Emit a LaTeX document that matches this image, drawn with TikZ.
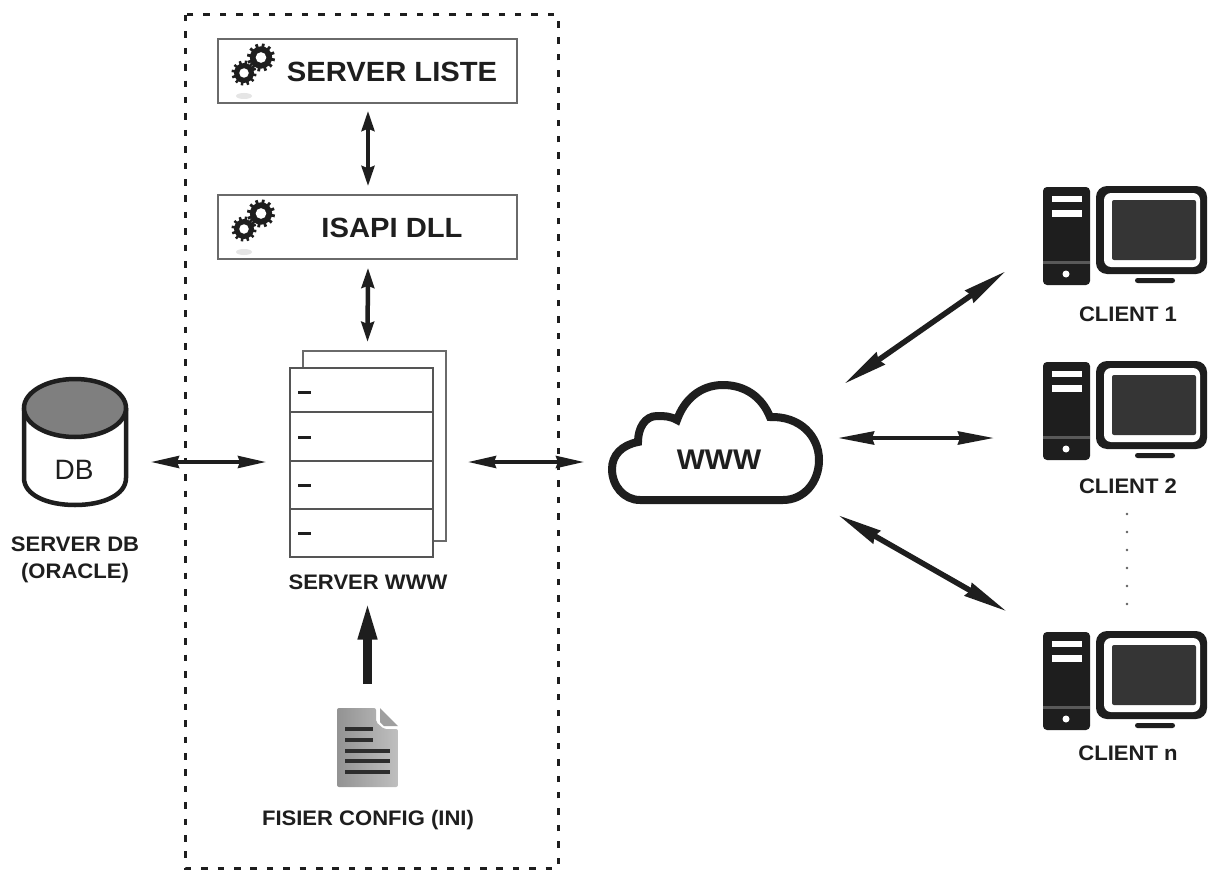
\documentclass[tikz,border=0pt]{standalone}
\usepackage{fontspec}
\setmainfont{Liberation Sans}
\newfontfamily\labf[FakeStretch=1.05]{Liberation Sans}
\usetikzlibrary{arrows.meta,calc,shapes.geometric}
\definecolor{ink}{HTML}{1E1E1E}
\definecolor{edge}{HTML}{6A6A6A}
\definecolor{dbtop}{HTML}{7F7F7F}
\newcommand{\gearw}[3]{%
  \fill[ink] (#1,#2) circle ({#3*0.8});
  \foreach \a in {0,30,...,330}{
    \draw[ink,line width={#3*0.2pt}] ({#1+#3*0.6*cos(\a+10)},{#2+#3*0.6*sin(\a+10)}) -- ({#1+#3*cos(\a+10)},{#2+#3*sin(\a+10)});
  }
  \fill[white] (#1,#2) circle ({#3*0.38});
}
\tikzset{
  x=1pt,y=-1pt,
  boxn/.style={draw=edge,line width=1.5pt,fill=white,minimum width=299pt,minimum height=64pt,inner sep=0pt},
  ghost/.style={inner sep=0pt,outer sep=0pt},
  headlab/.style={font=\labf\bfseries\fontsize{27.8}{30}\selectfont,text=ink,inner sep=0pt},
  caplab/.style={font=\labf\bfseries\fontsize{21}{27}\selectfont,text=ink,inner sep=0pt,align=center},
  bi/.style={ink,line width=3.5pt,{Stealth[length=28pt,width=12pt,inset=2pt]}-{Stealth[length=28pt,width=12pt,inset=2pt]}},
  biw/.style={ink,line width=4pt,{Stealth[length=36pt,width=13pt,inset=2pt]}-{Stealth[length=36pt,width=13pt,inset=2pt]}},
  bid/.style={ink,line width=5.5pt,{Stealth[length=44pt,width=14pt,inset=2pt]}-{Stealth[length=44pt,width=14pt,inset=2pt]}},
  biv/.style={ink,line width=4.5pt,{Stealth[length=20pt,width=12.5pt,inset=2pt]}-{Stealth[length=20pt,width=12.5pt,inset=2pt]}},
  gears/.pic={
    \fill[gray!20] (26,57) ellipse (8 and 3);
    \gearw{43}{18.5}{14}
    \gearw{26}{34}{12.5}
  },
  computer/.pic={
    \fill[ink,rounded corners=4pt] (1043,187) rectangle (1090,285);
    \fill[white] (1052,196) rectangle (1082,202);
    \fill[white] (1052,210) rectangle (1082,217);
    \fill[gray!70!black] (1043,261) rectangle (1090,264);
    \fill[white] (1066,274) circle (3.5);
    \fill[ink,rounded corners=11pt] (1096,186) rectangle (1207,274);
    \fill[white,rounded corners=7pt] (1104,193) rectangle (1200,267);
    \fill[ink!90,rounded corners=2pt] (1112,200) rectangle (1196,260);
    \fill[ink,rounded corners=2.5pt] (1135,278) rectangle (1175,283);
  },
}
\begin{document}
\begin{tikzpicture}
\useasboundingbox (0,0) rectangle (1209,872);
\fill[white] (0,0) rectangle (1209,872);
% dotted frame
\draw[ink,line width=3pt,dash pattern=on 6.5pt off 9.9pt] (185,15) rectangle (558,868);
% boxes
\node[boxn] (liste) at (367.5,71) {};
\node[boxn] (isapi) at (367.5,227) {};
\pic at (218,39) {gears};
\pic at (218,195) {gears};
\node[headlab] (listeT) at (392,72) {SERVER LISTE};
\node[headlab] (isapiT) at (392,228) {ISAPI DLL};
% server www
\draw[edge,line width=1.5pt] (303,368) -- (303,351) -- (446,351) -- (446,541) -- (433,541);
\draw[edge!80!black,line width=1.5pt,fill=white] (290,368) rectangle (433,557);
\draw[edge!80!black,line width=1.5pt] (290,412) -- (433,412) (290,461) -- (433,461) (290,509) -- (433,509);
\foreach \yy in {392,437,485,533}{ \draw[ink,line width=3pt] (298,\yy) -- (311,\yy); }
\node[ghost,minimum width=156pt,minimum height=206pt] (server) at (368,454) {};
\node[caplab] (serverT) at (368,582) {SERVER WWW};
% config file
\path[left color=gray!85,right color=gray!50,rounded corners=2pt]
  (337,708) -- (376,708) -- (376,722) -- (384,729) -- (398,729) -- (398,787) -- (337,787) -- cycle;
\fill[gray!75] (380,708) -- (398,726) -- (384,726) -- (380,722) -- cycle;
\foreach \yy/\xe in {729/373,740/373,751/390,761/390,772/390}{ \draw[gray!35!black,line width=3.2pt] (345,\yy) -- (\xe,\yy); }
\node[ghost,minimum width=61pt,minimum height=79pt] (config) at (367.5,747.5) {};
\node[caplab] (configT) at (368,820) {FISIER CONFIG (INI)};
% database
\draw[ink,line width=4.5pt,fill=white] (24,408) -- (24,478) .. controls (24,495) and (47,505) .. (75,505) .. controls (103,505) and (126,495) .. (126,478) -- (126,408);
\draw[ink,line width=4.5pt,fill=dbtop] (75,408) ellipse (51 and 29);
\node[ghost,minimum width=106pt,minimum height=129pt] (db) at (75,442.5) {};
\node[text=ink,font=\fontsize{28}{30}\selectfont,inner sep=0pt] (dbT) at (74,470) {DB};
\node[caplab] (dbL) at (75,559.5) {SERVER DB\\(ORACLE)};
% cloud
\draw[ink,line width=8pt,fill=white,line join=miter]
  (640,500) -- (783,500) .. controls (804,500) and (819,482) .. (819,460)
  .. controls (819,436) and (800,416) .. (770,417)
  .. controls (762,397) and (745,385) .. (723,385)
  .. controls (700,385) and (684,400) .. (677,420)
  .. controls (670,416) and (664,416) .. (657,416)
  .. controls (645,416) and (638,428) .. (638,442)
  .. controls (622,445) and (612,455) .. (612,469)
  .. controls (612,486) and (624,500) .. (640,500) -- cycle;
\node[ghost,minimum width=216pt,minimum height=123pt] (cloud) at (715,443.5) {};
\node[font=\labf\bfseries\fontsize{28.4}{30}\selectfont,text=ink,inner sep=0pt] (cloudT) at (719,460) {WWW};
% clients
\pic at (0,0) {computer};
\pic at (0,175) {computer};
\pic at (0,445) {computer};
\node[ghost,minimum width=164pt,minimum height=99pt] (c1) at (1125,235.5) {};
\node[ghost,minimum width=164pt,minimum height=99pt] (c2) at (1125,410.5) {};
\node[ghost,minimum width=164pt,minimum height=99pt] (cn) at (1125,680.5) {};
\node[caplab] (c1T) at (1128,314) {CLIENT 1};
\node[caplab] (c2T) at (1128,486) {CLIENT 2};
\node[caplab] (cnT) at (1128,753) {CLIENT n};
\foreach \yy in {514,532,550,568,586,604}{ \fill[ink!70] (1127,\yy) circle (1.3); }
% connectors
\coordinate (rowA) at (0,462);
\coordinate (rowB) at (0,438);
\draw[biv] ($(liste.south)+(0.5,7)$) -- ($(isapi.north)+(0.5,-8)$);
\draw[biv] ($(isapi.south)+(0.5,8)$) -- ($(server.north)+(-0.5,-9)$);
\draw[ink,line width=9pt,-{Stealth[length=40pt,width=17pt,inset=0pt]}] ($(config.north)+(0,-24)$) -- ($(serverT.south)+(-0.5,10)$);
\draw[bi] ($(db.east |- rowA)+(23,0)$) -- ($(server.west |- rowA)+(-24,0)$);
\draw[bi] ($(server.east |- rowA)+(22,0)$) -- ($(cloud.west |- rowA)+(-23,0)$);
\draw[bid] ($(cloud.north east)+(21,2)$) -- ($(c1.south west)+(-37,-14)$);
\draw[biw] ($(cloud.east |- rowB)+(15,0)$) -- ($(c2.west |- rowB)+(-49,0)$);
\draw[bid] ($(cloud.south east)+(15,10)$) -- ($(cn.west)+(-36,-69)$);
\end{tikzpicture}
\end{document}
